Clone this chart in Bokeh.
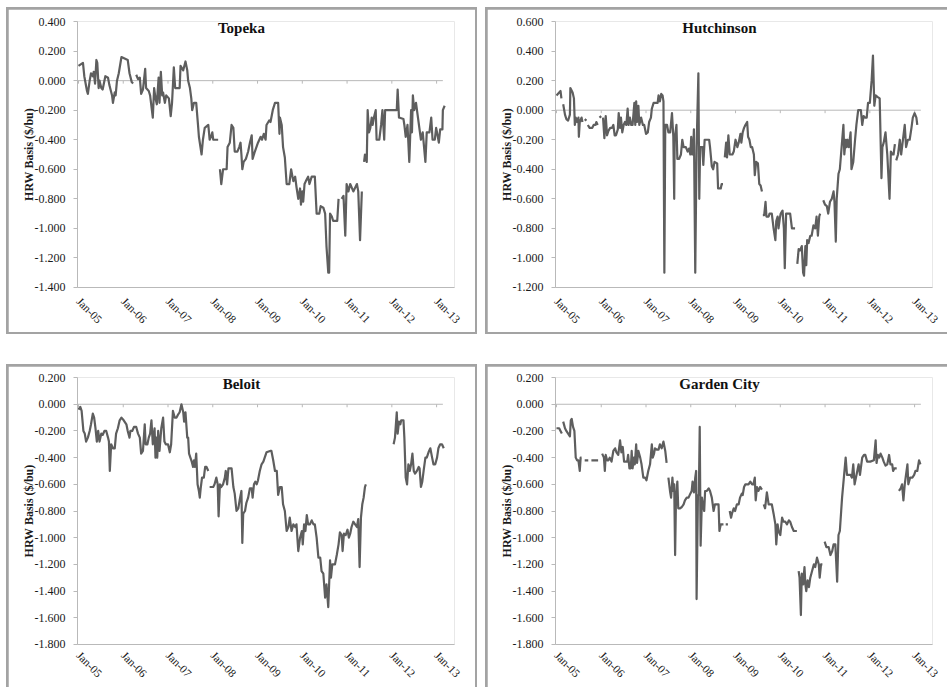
from bokeh.plotting import figure
from bokeh.layouts import row, column
from bokeh.models import (FixedTicker, PrintfTickFormatter, Label,
                          ColumnDataSource, Range1d)
from bokeh.embed import file_html
from bokeh.resources import INLINE

nan = float("nan")

xtick_vals = [0, 1, 2, 3, 4, 5, 6, 7, 8]
xtick_labels = ["Jan-05", "Jan-06", "Jan-07", "Jan-08", "Jan-09", "Jan-10", "Jan-11", "Jan-12", "Jan-13"]

topeka_x = [0.00, 0.10, 0.13, 0.19, 0.21, 0.25, 0.28, 0.32, 0.34, 0.37, 0.40, 0.42, 0.45, 0.47, 0.51, 0.54, 0.60, 0.66, 0.69, 0.75,
            0.77, 0.81, 0.83, 0.86, 0.90, 0.96, 1.03, 1.10, 1.14, 1.19, 1.22, 1.25,
            1.29, 1.33, 1.37, 1.40, 1.44, 1.49, 1.51, 1.57, 1.60, 1.66, 1.69, 1.72, 1.75, 1.79, 1.81, 1.84, 1.87, 1.89, 1.93, 1.96,
            2.02, 2.06, 2.09, 2.13, 2.16, 2.26, 2.28, 2.34, 2.39, 2.43, 2.45, 2.49, 2.52, 2.54, 2.58, 2.63, 2.67, 2.69, 2.75, 2.78,
            2.82, 2.90, 2.93, 2.96, 2.99, 3.01, 3.12, 3.14,
            3.16, 3.19, 3.23, 3.31, 3.33, 3.38, 3.42, 3.46, 3.49, 3.55, 3.59, 3.62, 3.64, 3.66, 3.69, 3.74, 3.79, 3.83, 3.87, 3.89,
            3.94, 4.01, 4.07, 4.10, 4.14, 4.18, 4.20, 4.26, 4.29, 4.34, 4.39, 4.46, 4.49, 4.50, 4.54, 4.57, 4.61, 4.65, 4.71, 4.75,
            4.78, 4.80, 4.84, 4.87, 4.91, 4.95, 4.97, 5.00, 5.02, 5.05, 5.08, 5.13, 5.16, 5.21, 5.28, 5.32, 5.38, 5.41, 5.47, 5.51,
            5.54, 5.58, 5.60, 5.62, 5.66, 5.69, 5.78, 5.81, 5.84,
            5.88, 5.92, 5.96, 5.99, 6.03, 6.07, 6.14, 6.22, 6.25, 6.29, 6.33, 6.35,
            6.38, 6.40, 6.44, 6.46, 6.49, 6.52, 6.55, 6.57, 6.60, 6.64, 6.66, 6.72, 6.76, 6.79, 6.83, 6.85, 7.00, 7.11, 7.13, 7.16,
            7.26, 7.28, 7.31, 7.35, 7.39, 7.41, 7.43, 7.45, 7.47, 7.50, 7.54, 7.65, 7.69, 7.75, 7.78, 7.84, 7.88, 7.91, 7.96, 7.99,
            8.01, 8.05, 8.08, 8.13, 8.14, 8.18]
topeka_y = [0.10, 0.12, 0.03, -0.07, -0.09, 0.00, 0.05, 0.03, 0.06, -0.02, 0.14, 0.12, -0.05, 0.00, -0.05, -0.06, 0.03, 0.02, -0.03, -0.10,
            -0.15, -0.08, -0.10, 0.00, 0.05, 0.16, 0.15, 0.14, 0.05, -0.01, -0.02, nan,
            0.04, 0.01, 0.02, -0.09, -0.06, 0.08, -0.05, -0.07, -0.10, -0.25, -0.05, -0.12, -0.16, 0.02, -0.15, 0.06, -0.10, -0.08, -0.15, -0.10,
            -0.12, -0.24, -0.15, 0.09, -0.05, -0.05, 0.10, 0.07, 0.13, 0.07, 0.00, -0.05, -0.12, -0.20, -0.15, -0.15, -0.30, -0.38, -0.50, -0.40,
            -0.32, -0.30, -0.40, -0.38, -0.35, -0.40, -0.40, nan,
            -0.60, -0.70, -0.60, -0.60, -0.45, -0.42, -0.30, -0.32, -0.48, -0.48, -0.45, -0.42, -0.50, -0.60, -0.55, -0.53, -0.48, -0.42, -0.37, -0.53,
            -0.48, -0.42, -0.38, -0.40, -0.36, -0.40, -0.30, -0.27, -0.28, -0.20, -0.15, -0.15, -0.36, -0.25, -0.30, -0.45, -0.52, -0.70, -0.70, -0.60,
            -0.65, -0.68, -0.65, -0.72, -0.80, -0.73, -0.84, -0.75, -0.82, -0.70, -0.68, -0.65, -0.70, -0.65, -0.65, -0.90, -0.90, -0.85, -0.86, -0.90,
            -1.12, -1.30, -1.30, -0.90, -0.92, -0.95, -0.95, -0.80, nan,
            -0.80, -0.78, -1.05, -0.70, -0.75, -0.70, -0.75, -0.70, -0.75, -1.08, -0.75, nan,
            -0.55, -0.50, -0.55, -0.20, -0.35, -0.32, -0.25, -0.30, -0.25, -0.20, -0.40, -0.40, -0.30, -0.20, -0.40, -0.20, -0.20, -0.20, -0.06, -0.25,
            -0.26, -0.30, -0.38, -0.30, -0.55, -0.38, -0.20, -0.35, -0.10, -0.20, -0.15, -0.40, -0.35, -0.55, -0.35, -0.35, -0.25, -0.40, -0.40, -0.32,
            -0.35, -0.42, -0.33, -0.33, -0.20, -0.17]

hutch_x = [0.00, 0.06, 0.09, 0.11, 0.13,
           0.15, 0.19, 0.22, 0.26, 0.30, 0.31, 0.36, 0.39, 0.41, 0.43, 0.46, 0.49, 0.50, 0.52, 0.56, 0.58, 0.60,
           0.63, 0.67, 0.68,
           0.70, 0.74, 0.80, 0.83, 0.87, 0.89, 0.92, 0.94,
           0.96, 1.00, 1.02,
           1.04, 1.07, 1.10, 1.13, 1.16, 1.20, 1.24, 1.27, 1.30, 1.33, 1.37, 1.39, 1.42, 1.44, 1.47, 1.50, 1.53, 1.56, 1.59, 1.61,
           1.64, 1.67, 1.70, 1.74, 1.76, 1.78, 1.80, 1.83, 1.85, 1.89, 1.93, 1.96, 2.00, 2.04, 2.07, 2.11, 2.13, 2.17, 2.22, 2.26,
           2.28, 2.31, 2.34, 2.37, 2.39, 2.41, 2.43, 2.47, 2.50, 2.54, 2.58, 2.61, 2.63, 2.64, 2.68, 2.70, 2.74, 2.78, 2.81, 2.84,
           2.89, 2.93, 2.96, 2.99, 3.01, 3.03, 3.05, 3.07, 3.10, 3.13, 3.17, 3.19, 3.21, 3.26, 3.28, 3.31, 3.35, 3.41, 3.43, 3.47,
           3.50, 3.53, 3.59, 3.61, 3.67, 3.69, 3.72, 3.74,
           3.76, 3.79, 3.81, 3.84, 3.87, 3.93, 3.96, 4.00, 4.04, 4.07, 4.11, 4.13, 4.16, 4.19, 4.22, 4.26, 4.28, 4.31, 4.34, 4.37,
           4.41, 4.43, 4.46, 4.50, 4.53, 4.56, 4.59, 4.60,
           4.61, 4.64, 4.67, 4.69, 4.74, 4.76, 4.81, 4.85, 4.89, 4.91, 4.94, 4.96, 4.99, 5.01, 5.05, 5.08, 5.10, 5.13, 5.17, 5.22,
           5.26, 5.33, 5.35,
           5.38, 5.41, 5.44, 5.48, 5.51, 5.53, 5.56, 5.58, 5.60, 5.63, 5.67, 5.70, 5.74, 5.78, 5.81, 5.84, 5.87, 5.89, 5.92,
           5.96, 6.00, 6.04, 6.07, 6.11, 6.15, 6.19, 6.21, 6.24, 6.26, 6.30, 6.33, 6.37, 6.41, 6.43, 6.46, 6.48, 6.50, 6.53, 6.57,
           6.59, 6.63, 6.67, 6.70, 6.74, 6.80, 6.83, 6.86, 6.89, 6.93, 6.96, 7.00, 7.04, 7.07, 7.10, 7.13, 7.17, 7.22, 7.26, 7.28,
           7.31, 7.35, 7.39, 7.44, 7.47, 7.50, 7.53, 7.56, 7.57,
           7.59, 7.63, 7.67, 7.70, 7.74, 7.78, 7.81, 7.85, 7.89, 7.93, 7.96, 8.00, 8.04, 8.06]
hutch_y = [0.10, 0.12, 0.13, 0.08, nan,
           0.04, -0.03, -0.06, -0.07, -0.03, 0.15, 0.12, 0.08, -0.10, -0.05, -0.08, -0.05, -0.18, -0.08, -0.05, -0.08, nan,
           -0.06, -0.07, nan,
           -0.10, -0.12, -0.12, -0.10, -0.10, -0.08, -0.10, nan,
           -0.05, -0.04, nan,
           -0.05, -0.19, -0.04, -0.17, -0.14, -0.12, -0.12, -0.10, -0.17, -0.17, -0.13, -0.02, -0.12, -0.05, -0.15, -0.10, -0.08, -0.10, 0.01, -0.10,
           -0.05, -0.10, -0.10, 0.05, -0.10, 0.06, -0.08, 0.03, -0.10, -0.05, -0.10, -0.10, -0.16, -0.15, -0.08, -0.05, 0.01, 0.05, 0.05, 0.05,
           0.10, 0.06, 0.11, 0.10, 0.06, -1.10, -0.10, -0.10, -0.15, -0.15, -0.02, -0.18, -0.60, -0.20, -0.10, -0.33, -0.33, -0.30, -0.20, -0.25,
           -0.25, -0.28, -0.26, -0.30, -0.18, -0.30, -0.30, -0.13, -1.10, -0.25, 0.25, -0.60, -0.25, -0.25, -0.37, -0.20, -0.20, -0.20, -0.25, -0.38,
           -0.40, -0.35, -0.36, -0.53, -0.53, -0.50, -0.50, nan,
           -0.32, -0.22, -0.32, -0.17, -0.30, -0.30, -0.28, -0.20, -0.25, -0.22, -0.16, -0.22, -0.15, -0.12, -0.10, -0.08, -0.18, -0.20, -0.25, -0.25,
           -0.30, -0.44, -0.35, -0.36, -0.50, -0.51, -0.55, nan,
           -0.71, -0.71, -0.62, -0.72, -0.72, -0.70, -0.70, -0.80, -0.88, -0.75, -0.72, -0.80, -0.73, -0.70, -0.68, -0.80, -1.07, -0.70, -0.70, -0.70,
           -0.80, -0.80, nan,
           -1.04, -0.94, -0.95, -0.92, -1.10, -1.12, -0.92, -1.05, -0.88, -0.90, -0.85, -0.85, -0.78, -0.80, -0.72, -0.85, -0.72, -0.70, nan,
           -0.61, -0.64, -0.65, -0.70, -0.62, -0.60, -0.55, -0.62, -0.89, -0.60, -0.43, -0.40, -0.25, -0.10, -0.30, -0.20, -0.25, -0.20, -0.25, -0.15,
           -0.40, -0.35, -0.20, -0.10, 0.00, 0.00, -0.10, -0.04, -0.05, -0.05, 0.05, 0.05, 0.20, 0.37, 0.03, 0.10, 0.09, 0.08, -0.46, -0.25,
           -0.22, -0.15, -0.30, -0.60, -0.28, -0.30, -0.30, -0.23, nan,
           -0.34, -0.30, -0.20, -0.30, -0.20, -0.10, -0.25, -0.20, -0.20, -0.12, -0.05, -0.02, -0.05, -0.10]

beloit_x = [0.00, 0.04, 0.07, 0.11, 0.14, 0.17, 0.21, 0.25, 0.28, 0.32, 0.35, 0.38, 0.41, 0.44, 0.47, 0.51, 0.54, 0.58, 0.62, 0.66,
            0.68, 0.70, 0.73, 0.77, 0.81, 0.84, 0.88, 0.92, 0.96, 1.01, 1.07, 1.10, 1.14, 1.16, 1.20, 1.24, 1.29, 1.33, 1.37, 1.40,
            1.44, 1.48, 1.50, 1.54, 1.57, 1.60, 1.63, 1.66, 1.70, 1.72, 1.74, 1.76, 1.78, 1.81, 1.85, 1.89, 1.92, 1.95, 2.00, 2.04,
            2.07, 2.11, 2.15, 2.19, 2.22, 2.26, 2.30, 2.34, 2.36, 2.39, 2.43, 2.45, 2.47, 2.50, 2.53, 2.56, 2.58, 2.60, 2.63, 2.66,
            2.69, 2.71, 2.73, 2.76, 2.80, 2.83, 2.86, 2.90, 2.92,
            2.93, 3.01, 3.04, 3.08, 3.11, 3.13, 3.16, 3.19, 3.23, 3.27, 3.29, 3.32, 3.35, 3.38, 3.42, 3.46, 3.49, 3.53, 3.57, 3.60,
            3.64, 3.66, 3.68, 3.72, 3.75, 3.79, 3.83, 3.87, 3.89, 3.92, 3.95, 3.98, 4.01, 4.05, 4.09, 4.13, 4.16, 4.20, 4.28, 4.31,
            4.35, 4.39, 4.43, 4.46, 4.50, 4.54, 4.57, 4.61, 4.65, 4.69, 4.72, 4.76, 4.80, 4.84, 4.87, 4.91, 4.95, 4.99, 5.01, 5.04,
            5.07, 5.10, 5.13, 5.17, 5.21, 5.25, 5.28, 5.32, 5.36, 5.40, 5.43, 5.47, 5.51, 5.54, 5.58, 5.62, 5.64, 5.67, 5.73, 5.77,
            5.81, 5.84, 5.88, 5.90, 5.93, 5.97, 6.01, 6.04, 6.07, 6.10, 6.14, 6.18, 6.22, 6.25, 6.28, 6.31, 6.34, 6.37, 6.40, 6.42,
            6.70,
            7.04, 7.07, 7.11, 7.13, 7.16, 7.19, 7.21, 7.26, 7.28, 7.31, 7.34, 7.37, 7.40, 7.43, 7.46, 7.49, 7.52, 7.56, 7.60, 7.62,
            7.65, 7.68, 7.71, 7.75, 7.78, 7.82, 7.86, 7.90, 7.93, 7.97, 8.01, 8.04, 8.08, 8.12, 8.16]
beloit_y = [-0.04, -0.02, -0.05, -0.20, -0.22, -0.28, -0.25, -0.20, -0.15, -0.07, -0.10, -0.18, -0.28, -0.20, -0.28, -0.22, -0.23, -0.20, -0.20, -0.25,
            -0.28, -0.50, -0.30, -0.33, -0.33, -0.22, -0.18, -0.12, -0.10, -0.12, -0.15, -0.20, -0.25, -0.20, -0.20, -0.17, -0.17, -0.22, -0.25, -0.37,
            -0.35, -0.15, -0.30, -0.30, -0.25, -0.22, -0.12, -0.30, -0.18, -0.40, -0.25, -0.40, -0.20, -0.35, -0.18, -0.10, -0.28, -0.30, -0.30, -0.36,
            -0.30, -0.05, -0.10, -0.10, -0.08, -0.06, 0.00, -0.06, -0.13, -0.06, -0.25, -0.25, -0.37, -0.40, -0.43, -0.47, -0.42, -0.47, -0.37, -0.60,
            -0.65, -0.70, -0.63, -0.55, -0.55, -0.47, -0.47, -0.50, nan,
            -0.62, -0.62, -0.60, -0.55, -0.60, -0.84, -0.60, -0.62, -0.60, -0.55, -0.50, -0.60, -0.48, -0.48, -0.48, -0.62, -0.67, -0.80, -0.78, -0.72,
            -0.65, -1.04, -0.82, -0.80, -0.74, -0.70, -0.63, -0.63, -0.70, -0.60, -0.58, -0.60, -0.57, -0.50, -0.45, -0.43, -0.40, -0.36, -0.35, -0.35,
            -0.42, -0.50, -0.50, -0.68, -0.62, -0.62, -0.75, -0.80, -0.95, -0.92, -0.85, -0.95, -0.90, -0.92, -0.90, -1.10, -1.00, -0.95, -1.05, -0.90,
            -0.95, -0.83, -0.90, -0.90, -0.87, -0.90, -0.90, -1.00, -1.15, -1.15, -1.25, -1.27, -1.45, -1.35, -1.52, -1.17, -1.30, -1.20, -1.20, -1.13,
            -1.05, -0.96, -0.98, -1.10, -0.97, -0.98, -0.94, -1.00, -0.97, -0.92, -0.88, -0.90, -0.92, -0.86, -1.22, -0.85, -0.75, -0.70, -0.62, -0.60,
            nan,
            -0.30, -0.25, -0.06, -0.22, -0.13, -0.15, -0.12, -0.12, -0.25, -0.55, -0.60, -0.45, -0.50, -0.45, -0.37, -0.50, -0.52, -0.50, -0.47, -0.48,
            -0.62, -0.58, -0.50, -0.40, -0.40, -0.36, -0.33, -0.40, -0.45, -0.45, -0.40, -0.33, -0.30, -0.30, -0.33]

garden_x = [0.00, 0.06, 0.09, 0.12, 0.13,
            0.15, 0.19, 0.22, 0.26, 0.30, 0.32, 0.34, 0.37, 0.40, 0.43, 0.46, 0.49, 0.52, 0.54, 0.56, 0.60,
            0.63, 0.71, 0.74,
            0.78, 0.86, 0.93, 0.97,
            1.02, 1.06, 1.08, 1.10, 1.13, 1.16, 1.19, 1.23, 1.27, 1.31, 1.34, 1.38, 1.42, 1.45, 1.48, 1.51, 1.54, 1.58, 1.60, 1.63,
            1.66, 1.68, 1.70, 1.73, 1.75, 1.78, 1.80, 1.83, 1.87, 1.90, 1.94, 1.98, 2.01, 2.05, 2.09, 2.13, 2.15, 2.18, 2.20, 2.24,
            2.28, 2.31, 2.35, 2.39, 2.43, 2.46, 2.48,
            2.50, 2.54, 2.56, 2.59, 2.61, 2.63, 2.65, 2.67, 2.70, 2.72, 2.76, 2.80, 2.84, 2.87, 2.91, 2.95, 2.99, 3.02, 3.04, 3.07,
            3.10, 3.12, 3.13, 3.16, 3.18, 3.20, 3.22, 3.25, 3.27, 3.30, 3.32, 3.36, 3.40, 3.43, 3.47, 3.51, 3.54, 3.58, 3.62, 3.64,
            3.67, 3.73, 3.75,
            3.78, 3.83, 3.85,
            3.87, 3.90, 3.92, 3.96, 3.99, 4.03, 4.07, 4.10, 4.14, 4.16, 4.19, 4.22, 4.25, 4.29, 4.33, 4.37, 4.40, 4.43, 4.45, 4.48,
            4.51, 4.55, 4.59, 4.61,
            4.63, 4.66, 4.70, 4.74, 4.78, 4.81, 4.85, 4.89, 4.91, 4.94, 4.96, 5.00, 5.04, 5.07, 5.11, 5.15, 5.19, 5.22, 5.26, 5.30,
            5.37, 5.39,
            5.41, 5.43, 5.46, 5.48, 5.51, 5.54, 5.56, 5.58, 5.61, 5.64, 5.67, 5.71, 5.75, 5.78, 5.82, 5.86, 5.88, 5.91, 5.94, 5.96,
            5.99, 6.03, 6.08, 6.12, 6.16, 6.19, 6.23, 6.27, 6.30, 6.33, 6.36, 6.38, 6.42, 6.46, 6.49, 6.53, 6.57, 6.60, 6.63, 6.66,
            6.69, 6.72, 6.75, 6.78, 6.81, 6.83, 6.87, 6.90, 6.94, 7.01, 7.09, 7.13, 7.15, 7.18, 7.21, 7.24, 7.28, 7.31, 7.35, 7.39,
            7.43, 7.46, 7.50, 7.52, 7.55, 7.60, 7.62,
            7.65, 7.69, 7.72, 7.75, 7.78, 7.80, 7.84, 7.86, 7.90, 7.95, 7.99, 8.02, 8.06, 8.10, 8.13]
garden_y = [-0.18, -0.18, -0.20, -0.22, nan,
            -0.13, -0.18, -0.20, -0.22, -0.24, -0.12, -0.11, -0.17, -0.20, -0.40, -0.42, -0.42, -0.50, -0.40, -0.40, nan,
            -0.42, -0.42, nan,
            -0.42, -0.42, -0.42, nan,
            -0.37, -0.40, -0.50, -0.38, -0.42, -0.42, -0.40, -0.43, -0.35, -0.33, -0.36, -0.38, -0.27, -0.36, -0.32, -0.43, -0.43, -0.43, -0.38, -0.48,
            -0.48, -0.35, -0.48, -0.40, -0.45, -0.30, -0.44, -0.35, -0.40, -0.45, -0.55, -0.55, -0.57, -0.50, -0.45, -0.30, -0.40, -0.37, -0.33, -0.34,
            -0.34, -0.30, -0.33, -0.28, -0.35, -0.44, nan,
            -0.55, -0.66, -0.70, -0.55, -0.65, -0.60, -1.13, -0.70, -0.58, -0.78, -0.78, -0.77, -0.75, -0.72, -0.70, -0.70, -0.67, -0.65, -0.58, -0.66,
            -0.55, -0.50, -1.46, -0.68, -0.68, -0.17, -1.06, -0.70, -0.75, -0.80, -0.65, -0.65, -0.63, -0.65, -0.70, -0.80, -0.75, -0.75, -0.75, -0.95,
            -0.90, -0.90, nan,
            -0.90, -0.90, nan,
            -0.80, -0.85, -0.82, -0.78, -0.80, -0.75, -0.75, -0.70, -0.67, -0.68, -0.62, -0.60, -0.60, -0.60, -0.58, -0.60, -0.60, -0.55, -0.72, -0.62,
            -0.65, -0.62, -0.64, nan,
            -0.75, -0.78, -0.66, -0.75, -0.75, -0.75, -0.82, -0.90, -1.05, -0.90, -0.95, -0.98, -0.85, -0.88, -0.88, -0.90, -0.87, -0.88, -0.92, -0.95,
            -0.95, nan,
            -1.25, -1.30, -1.58, -1.27, -1.35, -1.22, -1.35, -1.40, -1.32, -1.37, -1.30, -1.25, -1.20, -1.22, -1.15, -1.20, -1.30, -1.20, -1.20, nan,
            -1.03, -1.07, -1.07, -1.13, -1.10, -1.05, -1.05, -1.33, -0.98, -0.95, -0.80, -0.70, -0.55, -0.40, -0.53, -0.53, -0.53, -0.55, -0.45, -0.60,
            -0.55, -0.50, -0.45, -0.53, -0.45, -0.40, -0.38, -0.38, -0.43, -0.43, -0.42, -0.27, -0.44, -0.38, -0.40, -0.37, -0.40, -0.43, -0.46, -0.45,
            -0.38, -0.45, -0.45, -0.50, -0.48, -0.48, nan,
            -0.65, -0.63, -0.60, -0.72, -0.60, -0.55, -0.45, -0.60, -0.55, -0.55, -0.53, -0.50, -0.50, -0.42, -0.45]

topeka_yticks = [-1.4, -1.2, -1.0, -0.8, -0.6, -0.4, -0.2, 0.0, 0.2, 0.4]
hutch_yticks = [-1.2, -1.0, -0.8, -0.6, -0.4, -0.2, 0.0, 0.2, 0.4, 0.6]
beloit_yticks = [-1.8, -1.6, -1.4, -1.2, -1.0, -0.8, -0.6, -0.4, -0.2, 0.0, 0.2]
garden_yticks = [-1.8, -1.6, -1.4, -1.2, -1.0, -0.8, -0.6, -0.4, -0.2, 0.0, 0.2]

titles = ["Topeka", "Hutchinson", "Beloit", "Garden City"]
y_label = "HRW Basis ($/bu)"

# ---- styling ----
SERIF = "Liberation Serif"
LINE_COLOR = "#5e5e5e"
AXIS_COLOR = "#b9b9b9"
BORDER_COLOR = "#a3a3a3"
TEXT_COLOR = "#1a1a1a"
X_START, X_END = -0.022, 8.40
ZERO_END = 8.14
TITLE_X = 3.64


def make_panel(title, xs, ys, yticks, width, height, left, top, bottom, right, x_standoff):
    y0, y1 = yticks[0], yticks[-1]
    p = figure(width=width, height=height, output_backend="svg", toolbar_location=None,
               x_range=Range1d(X_START, X_END), y_range=Range1d(y0 - 0.0005, y1 + 0.0005),
               min_border_left=left, min_border_right=right, min_border_top=top, min_border_bottom=bottom)
    p.background_fill_color = "white"
    p.border_fill_color = "white"
    p.outline_line_color = None
    p.xgrid.visible = False
    p.ygrid.visible = False

    # y axis
    ya = p.yaxis[0]
    ya.ticker = FixedTicker(ticks=yticks)
    ya.formatter = PrintfTickFormatter(format="%.3f")
    ya.axis_line_color = AXIS_COLOR
    ya.major_tick_line_color = AXIS_COLOR
    ya.major_tick_out = 4
    ya.major_tick_in = 0
    ya.minor_tick_line_color = None
    ya.major_label_standoff = 8
    ya.major_label_text_font = SERIF
    ya.major_label_text_font_size = "12px"
    ya.major_label_text_color = TEXT_COLOR
    ya.axis_label = y_label
    ya.axis_label_text_font = SERIF
    ya.axis_label_text_font_size = "12px"
    ya.axis_label_text_font_style = "bold"
    ya.axis_label_text_color = TEXT_COLOR
    ya.axis_label_standoff = -4

    # x axis (bottom): rotated date labels, no tick marks on this line
    xa = p.xaxis[0]
    xa.ticker = FixedTicker(ticks=xtick_vals)
    xa.major_label_overrides = {v: lab for v, lab in zip(xtick_vals, xtick_labels)}
    xa.axis_line_color = AXIS_COLOR
    xa.major_tick_line_color = None
    xa.major_tick_out = 0
    xa.major_tick_in = 0
    xa.minor_tick_line_color = None
    xa.major_label_orientation = -0.785398
    xa.major_label_standoff = x_standoff
    xa.major_label_text_font = SERIF
    xa.major_label_text_font_size = "11.5px"
    xa.major_label_text_color = TEXT_COLOR

    # zero line with its tick marks
    frame_h = height - top - bottom
    tick_len = 3.0 * (y1 - y0) / frame_h
    p.segment(x0=[X_START], y0=[0.0], x1=[ZERO_END], y1=[0.0], line_color=AXIS_COLOR, line_width=1)
    p.segment(x0=xtick_vals, y0=[0.0] * len(xtick_vals), x1=xtick_vals, y1=[-tick_len] * len(xtick_vals),
              line_color=AXIS_COLOR, line_width=1)

    src = ColumnDataSource(dict(x=xs, y=ys))
    p.line("x", "y", source=src, line_color=LINE_COLOR, line_width=2.2, line_join="round")

    p.add_layout(Label(x=TITLE_X, y=y1, y_offset=-6, text=title, text_align="center", text_baseline="middle",
                       text_font=SERIF, text_font_size="15px", text_font_style="bold", text_color="#111111"))
    return p


def boxed(p, m):
    # grey panel frame: the figure sits inside a grey-backed box with a 2px margin
    p.margin = m
    return column(p, styles={"background-color": BORDER_COLOR})


p1 = make_panel(titles[0], topeka_x, topeka_y, topeka_yticks, 467, 323, 69, 12, 45, 21, 12)
p2 = make_panel(titles[1], hutch_x, hutch_y, hutch_yticks, 460, 323, 68, 12, 45, 15, 12)
p3 = make_panel(titles[2], beloit_x, beloit_y, beloit_yticks, 467, 321, 69, 11, 43, 21, 9)
p4 = make_panel(titles[3], garden_x, garden_y, garden_yticks, 460, 321, 68, 11, 43, 15, 9)

b1 = boxed(p1, (2, 2, 2, 2))
b2 = boxed(p2, (2, 0, 2, 2))
b3 = boxed(p3, (2, 2, 0, 2))
b4 = boxed(p4, (2, 0, 0, 2))

layout = column(row(b1, b2, spacing=8), row(b3, b4, spacing=8), spacing=30)
layout.margin = (7, 0, 0, 6)

open("out.html", "w").write(file_html(layout, INLINE))
